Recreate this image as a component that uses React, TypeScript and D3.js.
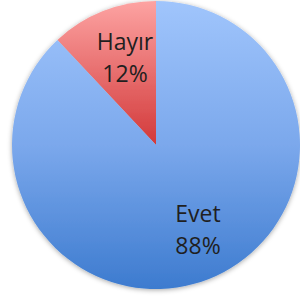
import React, { useEffect, useRef } from 'react';
import * as d3 from 'd3';

const labels = ['Hayır', 'Evet'];
const values = [12, 88];
const percents = ['12%', '88%'];

const App = () => {
  const svgRef = useRef<SVGSVGElement>(null);

  useEffect(() => {
    const width = 300;
    const height = 298;
    const cx = 156;
    const cy = 145;
    const r = 144;

    const svg = d3.select(svgRef.current)
      .attr('width', width)
      .attr('height', height)
      .style('display', 'block');
    svg.selectAll('*').remove();

    const defs = svg.append('defs');

    // vertical gradients, relative to the pie centre (group coords)
    const blue = defs.append('linearGradient')
      .attr('id', 'gBlue')
      .attr('gradientUnits', 'userSpaceOnUse')
      .attr('x1', 0).attr('y1', -r)
      .attr('x2', 0).attr('y2', r);
    blue.append('stop').attr('offset', '0%').attr('stop-color', '#a0c5fc');
    blue.append('stop').attr('offset', '50%').attr('stop-color', '#7ba8ec');
    blue.append('stop').attr('offset', '100%').attr('stop-color', '#3d7bcf');

    const red = defs.append('linearGradient')
      .attr('id', 'gRed')
      .attr('gradientUnits', 'userSpaceOnUse')
      .attr('x1', 0).attr('y1', -r)
      .attr('x2', 0).attr('y2', 0);
    red.append('stop').attr('offset', '0%').attr('stop-color', '#fda3a2');
    red.append('stop').attr('offset', '100%').attr('stop-color', '#d2393a');

    const shadow = defs.append('filter')
      .attr('id', 'shadow')
      .attr('x', '-10%').attr('y', '-10%')
      .attr('width', '120%').attr('height', '120%');
    shadow.append('feDropShadow')
      .attr('dx', 0).attr('dy', 1)
      .attr('stdDeviation', 2.5)
      .attr('flood-color', '#000')
      .attr('flood-opacity', 0.35);

    const pie = d3.pie<number>().sort(null).startAngle(0).endAngle(-2 * Math.PI);
    const arcs = pie(values);
    const arc = d3.arc<d3.PieArcDatum<number>>().innerRadius(0).outerRadius(r);

    const g = svg.append('g').attr('transform', `translate(${cx},${cy})`);

    g.append('g')
      .attr('filter', 'url(#shadow)')
      .selectAll('path')
      .data(arcs)
      .join('path')
      .attr('d', arc)
      .attr('fill', (_, i) => (i === 0 ? 'url(#gRed)' : 'url(#gBlue)'));

    const labelPos = [
      [-31, -95],
      [42, 77],
    ];

    arcs.forEach((a, i) => {
      const t = g.append('text')
        .attr('text-anchor', 'middle')
        .attr('font-family', '"Open Sans", sans-serif')
        .attr('font-size', 23)
        .attr('fill', '#1f1f1f');
      t.append('tspan')
        .attr('x', labelPos[i][0])
        .attr('y', labelPos[i][1])
        .text(labels[i]);
      t.append('tspan')
        .attr('x', labelPos[i][0])
        .attr('y', labelPos[i][1] + 32)
        .text(percents[i]);
    });
  }, []);

  return (
    <div style={{ position: 'absolute', left: 0, top: 0 }}>
      <svg ref={svgRef}></svg>
    </div>
  );
};

export default App;
